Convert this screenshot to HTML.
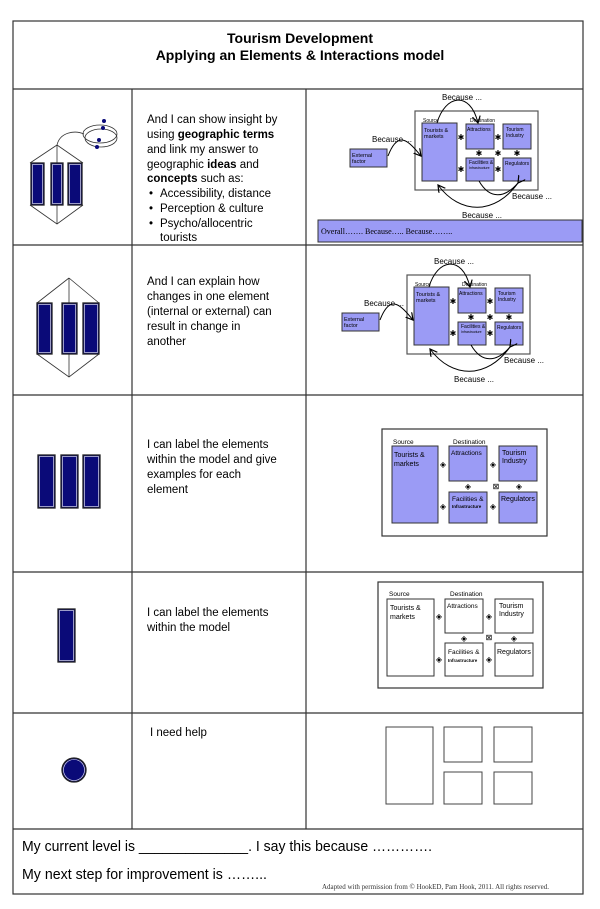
<!DOCTYPE html>
<html><head><meta charset="utf-8"><style>
html,body{margin:0;padding:0;background:#fff;}
svg{display:block;}
.t{font-family:"Liberation Sans",sans-serif;font-size:11.5px;fill:#000;}
.s{font-family:"Liberation Sans",sans-serif;fill:#000;}
</style></head><body>
<svg width="600" height="909" viewBox="0 0 600 909" xmlns="http://www.w3.org/2000/svg">
<defs>
<marker id="ah" markerWidth="10" markerHeight="10" refX="7" refY="4" orient="auto" markerUnits="userSpaceOnUse"><path d="M0,0 L7,4 L0,8" fill="none" stroke="#000" stroke-width="1.2"/></marker>
</defs>
<g stroke="#333" stroke-width="1.2" fill="none">
<rect x="13" y="21" width="570" height="873"/>
<line x1="13" y1="89" x2="583" y2="89"/>
<line x1="13" y1="245" x2="583" y2="245"/>
<line x1="13" y1="395" x2="583" y2="395"/>
<line x1="13" y1="572" x2="583" y2="572"/>
<line x1="13" y1="713" x2="583" y2="713"/>
<line x1="13" y1="829" x2="583" y2="829"/>
<line x1="132" y1="89" x2="132" y2="829"/>
<line x1="306" y1="89" x2="306" y2="829"/>
</g>
<text class="s" x="300" y="43" font-size="14" font-weight="bold" text-anchor="middle">Tourism Development</text>
<text class="s" x="300" y="60" font-size="14" font-weight="bold" text-anchor="middle">Applying an Elements &amp; Interactions model</text>

<!-- icons -->
<g stroke="#333" stroke-width="0.8" fill="none">
<path d="M57,145 L30,163 M57,145 L57,163 M57,145 L83,163 M30,205 L57,224 L83,205 M57,205 L57,224"/>
<path d="M57,145 C60,132 75,130 84,134"/>
<ellipse cx="100" cy="134" rx="17" ry="9"/><ellipse cx="101" cy="138" rx="16" ry="9"/>
<path d="M69,278 L37,303 M69,278 L69,303 M69,278 L99,303 M37,354 L69,377 L99,354 M69,354 L69,377"/>
</g>
<g fill="#0a0a78">
<circle cx="104" cy="121" r="2"/><circle cx="103" cy="128" r="2"/><circle cx="99" cy="140" r="2"/><circle cx="97" cy="147" r="2"/>
</g>
<g fill="#0a0a78" stroke="#222" stroke-width="1.3">
<rect x="31" y="163" width="13" height="42"/><rect x="51" y="163" width="12" height="42"/><rect x="68" y="163" width="14" height="42"/>
<rect x="37" y="303" width="15" height="51"/><rect x="62" y="303" width="15" height="51"/><rect x="83" y="303" width="16" height="51"/>
<rect x="38" y="455" width="17" height="53"/><rect x="61" y="455" width="17" height="53"/><rect x="83" y="455" width="17" height="53"/>
<rect x="58" y="609" width="17" height="53"/>
<circle cx="74" cy="770" r="12"/>
</g>
<g fill="none" stroke="#fff" stroke-width="0.6">
<rect x="32.5" y="164.5" width="10" height="39"/><rect x="52.5" y="164.5" width="9" height="39"/><rect x="69.5" y="164.5" width="11" height="39"/>
<rect x="38.5" y="304.5" width="12" height="48"/><rect x="63.5" y="304.5" width="12" height="48"/><rect x="84.5" y="304.5" width="13" height="48"/>
<rect x="39.5" y="456.5" width="14" height="50"/><rect x="62.5" y="456.5" width="14" height="50"/><rect x="84.5" y="456.5" width="14" height="50"/>
<rect x="59.5" y="610.5" width="14" height="50"/>
<circle cx="74" cy="770" r="10.5"/>
</g>

<!-- text column -->
<text class="t" x="147" y="123">And I can show insight by</text>
<text class="t" x="147" y="138">using <tspan font-weight="bold">geographic terms</tspan></text>
<text class="t" x="147" y="153">and link my answer to</text>
<text class="t" x="147" y="168">geographic <tspan font-weight="bold">ideas</tspan> and</text>
<text class="t" x="147" y="182"><tspan font-weight="bold">concepts</tspan> such as:</text>
<text class="t" x="149" y="197">•</text><text class="t" x="160" y="197">Accessibility, distance</text>
<text class="t" x="149" y="212">•</text><text class="t" x="160" y="212">Perception &amp; culture</text>
<text class="t" x="149" y="227">•</text><text class="t" x="160" y="227">Psycho/allocentric</text>
<text class="t" x="160" y="241">tourists</text>
<text class="t" x="147" y="285">And I can explain how</text>
<text class="t" x="147" y="300">changes in one element</text>
<text class="t" x="147" y="315">(internal or external) can</text>
<text class="t" x="147" y="330">result in change in</text>
<text class="t" x="147" y="345">another</text>
<text class="t" x="147" y="448">I can label the elements</text>
<text class="t" x="147" y="463">within the model and give</text>
<text class="t" x="147" y="478">examples for each</text>
<text class="t" x="147" y="493">element</text>
<text class="t" x="147" y="616">I can label the elements</text>
<text class="t" x="147" y="631">within the model</text>
<text class="t" x="150" y="736">I need help</text>

<!-- Diagram 1 -->
<g>
<rect x="415" y="111" width="123" height="79" fill="#fff" stroke="#555" stroke-width="1.2"/>
<g fill="#9b9bf5" stroke="#333" stroke-width="1">
<rect x="422" y="123" width="35" height="58"/>
<rect x="466" y="124" width="28" height="25"/><rect x="503" y="124" width="28" height="25"/>
<rect x="466" y="158" width="28" height="23"/><rect x="503" y="158" width="28" height="23"/>
<rect x="350" y="149" width="37" height="18"/>
<rect x="318" y="220" width="264" height="22"/>
</g>
<g class="s" font-size="5">
<text x="423" y="122">Source</text><text x="470" y="122">Destination</text>
<text x="424" y="132" font-size="5.5">Tourists &amp;</text><text x="424" y="138" font-size="5.5">markets</text>
<text x="467" y="131">Attractions</text><text x="506" y="131">Tourism</text><text x="506" y="137">Industry</text>
<text x="469" y="164">Facilities &amp;</text><text x="469" y="169" font-size="3.5">Infrastructure</text><text x="505" y="165">Regulators</text>
<text x="352" y="157" font-size="5.5">External</text><text x="352" y="163" font-size="5.5">factor</text>
</g>
<g class="s" font-size="8">
<text x="442" y="100">Because ...</text><text x="372" y="142">Because ...</text>
<text x="512" y="199">Because ...</text><text x="462" y="218">Because ...</text>
</g>
<text x="321" y="234" font-family="Liberation Serif" font-size="8">Overall…….      Because…..           Because……..</text>
<g fill="none" stroke="#000" stroke-width="1">
<path d="M437,123 C445,95 470,90 478,123" marker-end="url(#ah)"/>
<path d="M388,156 C398,130 408,140 421,156" marker-end="url(#ah)"/>
<path d="M518,183 C495,215 460,215 438,185" marker-end="url(#ah)" marker-start="url(#ah)"/>
<path d="M479,181 C490,200 505,198 518,183"/>
</g>
<g font-size="8" class="s" text-anchor="middle">
<text x="461" y="140">✱</text><text x="498" y="140">✱</text><text x="479" y="156">✱</text><text x="498" y="156">✱</text><text x="517" y="156">✱</text><text x="461" y="172">✱</text><text x="498" y="172">✱</text>
</g>
</g>

<!-- Diagram 2 -->
<g transform="translate(-8,164)">
<rect x="415" y="111" width="123" height="79" fill="#fff" stroke="#555" stroke-width="1.2"/>
<g fill="#9b9bf5" stroke="#333" stroke-width="1">
<rect x="422" y="123" width="35" height="58"/>
<rect x="466" y="124" width="28" height="25"/><rect x="503" y="124" width="28" height="25"/>
<rect x="466" y="158" width="28" height="23"/><rect x="503" y="158" width="28" height="23"/>
<rect x="350" y="149" width="37" height="18"/>
</g>
<g class="s" font-size="5">
<text x="423" y="122">Source</text><text x="470" y="122">Destination</text>
<text x="424" y="132" font-size="5.5">Tourists &amp;</text><text x="424" y="138" font-size="5.5">markets</text>
<text x="467" y="131">Attractions</text><text x="506" y="131">Tourism</text><text x="506" y="137">Industry</text>
<text x="469" y="164">Facilities &amp;</text><text x="469" y="169" font-size="3.5">Infrastructure</text><text x="505" y="165">Regulators</text>
<text x="352" y="157" font-size="5.5">External</text><text x="352" y="163" font-size="5.5">factor</text>
</g>
<g class="s" font-size="8">
<text x="442" y="100">Because ...</text><text x="372" y="142">Because ...</text>
<text x="512" y="199">Because ...</text><text x="462" y="218">Because ...</text>
</g>
<g fill="none" stroke="#000" stroke-width="1">
<path d="M437,123 C445,95 470,90 478,123" marker-end="url(#ah)"/>
<path d="M388,156 C398,130 408,140 421,156" marker-end="url(#ah)"/>
<path d="M518,183 C495,215 460,215 438,185" marker-end="url(#ah)" marker-start="url(#ah)"/>
<path d="M479,181 C490,200 505,198 518,183"/>
</g>
<g font-size="8" class="s" text-anchor="middle">
<text x="461" y="140">✱</text><text x="498" y="140">✱</text><text x="479" y="156">✱</text><text x="498" y="156">✱</text><text x="517" y="156">✱</text><text x="461" y="172">✱</text><text x="498" y="172">✱</text>
</g>
</g>

<!-- Diagram 3 -->
<rect x="382" y="429" width="165" height="107" fill="#fff" stroke="#333" stroke-width="1.2"/>
<g fill="#9b9bf5" stroke="#333" stroke-width="1">
<rect x="392" y="446" width="46" height="77"/>
<rect x="449" y="446" width="38" height="35"/><rect x="499" y="446" width="38" height="35"/>
<rect x="449" y="492" width="38" height="31"/><rect x="499" y="492" width="38" height="31"/>
</g>
<g class="s" font-size="7">
<text x="393" y="444" font-size="6.5">Source</text><text x="453" y="444" font-size="6.5">Destination</text>
<text x="394" y="457">Tourists &amp;</text><text x="394" y="466">markets</text>
<text x="451" y="455" font-size="6.5">Attractions</text><text x="502" y="455">Tourism</text><text x="502" y="463">Industry</text>
<text x="452" y="501" font-size="6.5">Facilities &amp;</text><text x="452" y="508" font-size="4.5" font-weight="bold">Infrastructure</text>
<text x="501" y="501">Regulators</text>
</g>
<g class="s" font-size="8" text-anchor="middle">
<text x="443" y="467">◈</text><text x="493" y="467">◈</text><text x="468" y="489">◈</text><text x="519" y="489">◈</text><text x="496" y="489">⊠</text><text x="443" y="509">◈</text><text x="493" y="509">◈</text>
</g>

<!-- Diagram 4 -->
<rect x="378" y="582" width="165" height="106" fill="#fff" stroke="#333" stroke-width="1.2"/>
<g fill="#fff" stroke="#333" stroke-width="1">
<rect x="387" y="599" width="47" height="77"/>
<rect x="445" y="599" width="38" height="34"/><rect x="495" y="599" width="38" height="34"/>
<rect x="445" y="643" width="38" height="33"/><rect x="495" y="643" width="38" height="33"/>
</g>
<g class="s" font-size="7">
<text x="389" y="596" font-size="6.5">Source</text><text x="450" y="596" font-size="6.5">Destination</text>
<text x="390" y="610">Tourists &amp;</text><text x="390" y="619">markets</text>
<text x="447" y="608" font-size="6.5">Attractions</text><text x="499" y="608">Tourism</text><text x="499" y="616">Industry</text>
<text x="448" y="654" font-size="6.5">Facilities &amp;</text><text x="448" y="662" font-size="4.5" font-weight="bold">Infrastructure</text>
<text x="497" y="654">Regulators</text>
</g>
<g class="s" font-size="8" text-anchor="middle">
<text x="439" y="619">◈</text><text x="489" y="619">◈</text><text x="464" y="641">◈</text><text x="514" y="641">◈</text><text x="489" y="640">⊠</text><text x="439" y="662">◈</text><text x="489" y="662">◈</text>
</g>

<!-- Diagram 5 -->
<g fill="#fff" stroke="#444" stroke-width="1">
<rect x="386" y="727" width="47" height="77"/>
<rect x="444" y="727" width="38" height="35"/><rect x="494" y="727" width="38" height="35"/>
<rect x="444" y="772" width="38" height="32"/><rect x="494" y="772" width="38" height="32"/>
</g>

<text class="s" x="22" y="851" font-size="15" textLength="410" lengthAdjust="spacingAndGlyphs">My current level is ______________. I say this because ………….</text>
<text class="s" x="22" y="879" font-size="15" textLength="245" lengthAdjust="spacingAndGlyphs">My next step for improvement is ……...</text>
<text x="322" y="889" font-family="Liberation Serif" font-size="7" fill="#333" textLength="227" lengthAdjust="spacingAndGlyphs">Adapted with permission from © HookED, Pam Hook, 2011.  All rights reserved.</text>
</svg>
</body></html>
